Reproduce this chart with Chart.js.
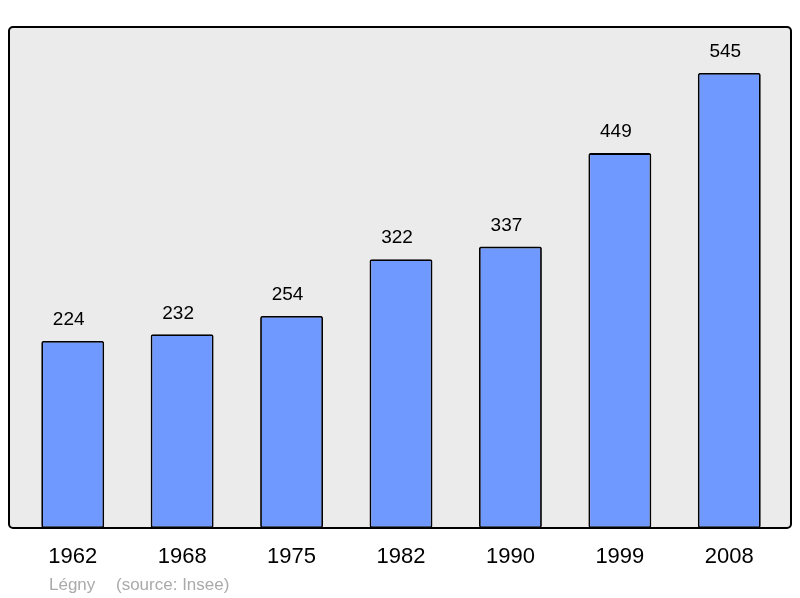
<!DOCTYPE html>
<html>
<head>
<meta charset="utf-8">
<script src="https://cdn.jsdelivr.net/npm/chart.js@4"></script>
<style>
  html, body { margin: 0; padding: 0; background: #fff; }
  #wrap { width: 800px; height: 598px; }
</style>
</head>
<body>
<div id="wrap"><canvas id="chart" width="800" height="598"></canvas></div>
<script>
const years = ["1962", "1968", "1975", "1982", "1990", "1999", "2008"];
const population = [224, 232, 254, 322, 337, 449, 545];
const yMax = 600;
const footer = "Légny";
const source = "(source: Insee)";

const FONT = "'Liberation Sans', Arial, sans-serif";

// grey panel with rounded black frame, drawn behind the bars
const panel = {
  id: "panel",
  beforeDraw(chart) {
    const ctx = chart.ctx;
    const a = chart.chartArea;
    const x0 = 9, x1 = 791, y0 = a.top, y1 = a.bottom, r = 4;
    ctx.save();
    ctx.beginPath();
    ctx.roundRect(x0, y0, x1 - x0, y1 - y0, r);
    ctx.fillStyle = "#ebebeb";
    ctx.fill();
    ctx.lineWidth = 2;
    ctx.strokeStyle = "#000";
    ctx.stroke();
    ctx.restore();
  },
  afterDraw(chart) {
    const ctx = chart.ctx;
    const x = chart.scales.x;
    const y = chart.scales.y;
    ctx.save();
    ctx.textAlign = "center";
    ctx.textBaseline = "middle";
    ctx.fillStyle = "#000";
    ctx.font = "19px " + FONT;
    population.forEach((v, i) => {
      ctx.fillText(String(v), x.getPixelForValue(i) - 4, y.getPixelForValue(v) - 21);
    });
    ctx.font = "22px " + FONT;
    years.forEach((yr, i) => {
      ctx.fillText(yr, x.getPixelForValue(i), chart.chartArea.bottom + 29);
    });
    ctx.textAlign = "left";
    ctx.fillStyle = "#aaaaaa";
    ctx.font = "17px " + FONT;
    ctx.fillText(footer, 49, 585);
    ctx.fillText(source, 116, 585);
    ctx.restore();
  }
};

new Chart(document.getElementById("chart"), {
  type: "bar",
  data: {
    labels: years,
    datasets: [{
      data: population,
      backgroundColor: "#7099ff",
      borderColor: "#000",
      borderWidth: 1.8,
      borderRadius: 2,
      borderSkipped: false,
      barPercentage: 0.575,
      categoryPercentage: 1
    }]
  },
  options: {
    responsive: false,
    animation: false,
    layout: { padding: { left: 18, right: 16, top: 27, bottom: 70 } },
    scales: {
      x: { display: false },
      y: { display: false, min: 0, max: yMax }
    },
    plugins: {
      legend: { display: false },
      tooltip: { enabled: false }
    }
  },
  plugins: [panel]
});
</script>
</body>
</html>
